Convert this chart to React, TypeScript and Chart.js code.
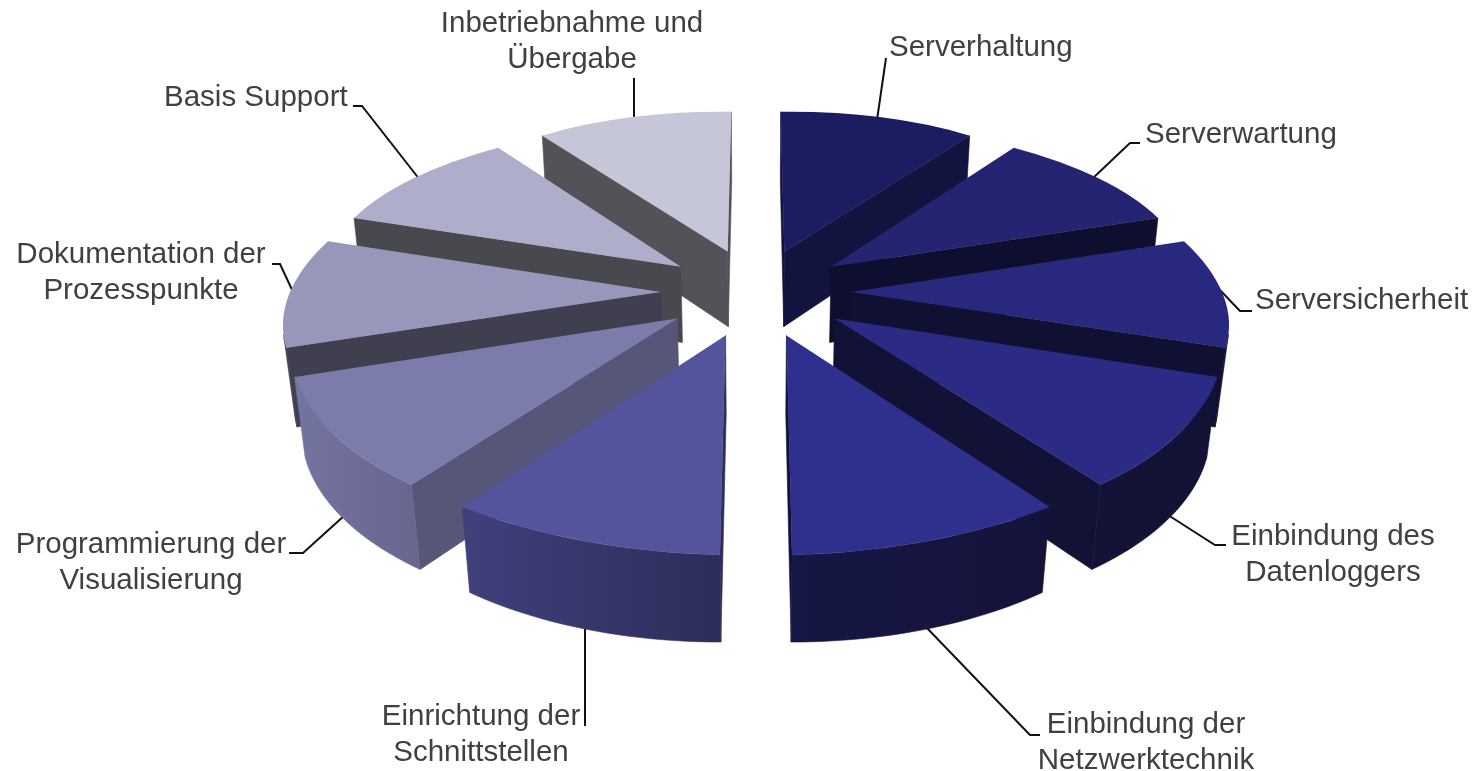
import React, { useEffect, useRef } from "react";
import { Chart, registerables } from "chart.js";

Chart.register(...registerables);

const categories = [
  "Serverhaltung",
  "Serverwartung",
  "Serversicherheit",
  "Einbindung des\nDatenloggers",
  "Einbindung der\nNetzwerktechnik",
  "Einrichtung der\nSchnittstellen",
  "Programmierung der\nVisualisierung",
  "Dokumentation der\nProzesspunkte",
  "Basis Support",
  "Inbetriebnahme und\nÜbergabe",
];
const shares = [10, 10, 10, 10, 10, 10, 10, 10, 10, 10];

const topColors = ["#1c1c60", "#242472", "#28287e", "#2b2b85", "#2f2f8e", "#54549d", "#7c7cac", "#9797bb", "#aeaecb", "#c6c6d9"];
const sideColors = ["#13133f", "#0e0e2e", "#101032", "#121236", "#121238", "#2e2e5d", "#565678", "#403f4f", "#48484f", "#525258"];
const rimLeftColors = ["#13133f", "#0e0e2e", "#101032", "#131338", "#171745", "#40407c", "#7474a0", "#403f4f", "#48484f", "#525258"];
const rimRightColors = ["#13133f", "#0e0e2e", "#101032", "#121236", "#13133a", "#2d2d5b", "#66668f", "#403f4f", "#48484f", "#525258"];

// Perspective camera of the exploded 3D pie
const VIEW = { cx: 756, cy: 292, ax: 371, bz: 172, k: 0.15, m: 0.022, drop: 78.6, explode: 0.256 };

// Label layout: [x, align, baseline of first line]
const LABEL_LAYOUT: [number, CanvasTextAlign, number][] = [
  [889, "left", 56],
  [1145, "left", 143],
  [1255, "left", 309],
  [1333, "center", 545],
  [1146, "center", 733],
  [481, "center", 725],
  [151, "center", 553],
  [141, "center", 263],
  [164, "left", 106],
  [572, "center", 32],
];
const LEADERS: number[][][] = [
  [[886, 58], [877, 120]],
  [[1140, 143], [1130, 143], [1092, 179]],
  [[1252, 311], [1240, 311], [1218, 288]],
  [[1226, 545], [1215, 545], [1168, 515]],
  [[1040, 735], [1030, 735], [925, 626]],
  [[585, 726], [585, 626]],
  [[289, 553], [303, 553], [345, 515]],
  [[272, 264], [280, 264], [294, 294]],
  [[353, 106], [362, 106], [420, 180]],
  [[634, 78], [634, 120]],
];

function project(X: number, Z: number, h: number): [number, number] {
  const w = 1 + VIEW.k * Z + VIEW.m * h;
  return [VIEW.cx + (VIEW.ax * X) / w, VIEW.cy - (VIEW.bz * Z - VIEW.drop * h) / w];
}

type Pt = [number, number];

function fillPoly(ctx: CanvasRenderingContext2D, pts: Pt[], fill: string | CanvasGradient) {
  ctx.beginPath();
  pts.forEach((p, i) => (i ? ctx.lineTo(p[0], p[1]) : ctx.moveTo(p[0], p[1])));
  ctx.closePath();
  ctx.fillStyle = fill;
  ctx.strokeStyle = fill;
  ctx.lineWidth = 0.6;
  ctx.fill();
  ctx.stroke();
}

function area(pts: Pt[]) {
  let s = 0;
  pts.forEach((p, i) => {
    const q = pts[(i + 1) % pts.length];
    s += p[0] * q[1] - q[0] * p[1];
  });
  return s;
}

const pie3d = {
  id: "pie3d",
  beforeDatasetDraw(chart: any) {
    const ctx: CanvasRenderingContext2D = chart.ctx;
    const arcs = chart.getDatasetMeta(0).data as any[];

    ctx.save();
    ctx.strokeStyle = "#111111";
    ctx.lineWidth = 2;
    LEADERS.forEach((line) => {
      ctx.beginPath();
      line.forEach((p, i) => (i ? ctx.lineTo(p[0], p[1]) : ctx.moveTo(p[0], p[1])));
      ctx.stroke();
    });
    ctx.restore();

    const order = arcs
      .map((a, i) => i)
      .sort((i, j) => {
        const mid = (a: any) => (a.startAngle + a.endAngle) / 2 + Math.PI / 2;
        return Math.cos(mid(arcs[j])) - Math.cos(mid(arcs[i]));
      });

    order.forEach((i) => {
      const arc = arcs[i];
      const t1 = arc.startAngle + Math.PI / 2;
      const t2 = arc.endAngle + Math.PI / 2;
      const mid = (t1 + t2) / 2;
      const ox = VIEW.explode * Math.sin(mid);
      const oz = VIEW.explode * Math.cos(mid);
      const tip = project(ox, oz, 0);
      const tipB = project(ox, oz, 1);
      const S = project(ox + Math.sin(t1), oz + Math.cos(t1), 0);
      const E = project(ox + Math.sin(t2), oz + Math.cos(t2), 0);
      // Affine map of the unit wedge onto its projected triangle
      const u1 = [Math.cos(arc.startAngle), Math.sin(arc.startAngle)];
      const u2 = [Math.cos(arc.endAngle), Math.sin(arc.endAngle)];
      const det = u1[0] * u2[1] - u2[0] * u1[1];
      const sx = S[0] - tip[0], sy = S[1] - tip[1], ex = E[0] - tip[0], ey = E[1] - tip[1];
      const a = (sx * u2[1] - ex * u1[1]) / det;
      const c = (ex * u1[0] - sx * u2[0]) / det;
      const b = (sy * u2[1] - ey * u1[1]) / det;
      const d = (ey * u1[0] - sy * u2[0]) / det;
      const mapTop = (ang: number): Pt => {
        const ca = Math.cos(ang), sa = Math.sin(ang);
        return [tip[0] + a * ca + c * sa, tip[1] + b * ca + d * sa];
      };

      const SB = project(ox + Math.sin(t1), oz + Math.cos(t1), 1);
      const EB = project(ox + Math.sin(t2), oz + Math.cos(t2), 1);
      const startFace: Pt[] = [S, tip, tipB, SB];
      const endFace: Pt[] = [tip, E, EB, tipB];
      if (area(startFace) > 0) fillPoly(ctx, startFace, sideColors[i]);
      if (area(endFace) > 0) fillPoly(ctx, endFace, sideColors[i]);

      // Visible part of the outer wall
      const N = 24;
      const tops: Pt[] = [];
      const bots: Pt[] = [];
      for (let n = 0; n <= N; n++) {
        const f = n / N;
        tops.push(mapTop(arc.startAngle + (arc.endAngle - arc.startAngle) * f));
        const th = t1 + (t2 - t1) * f;
        bots.push(project(ox + Math.sin(th), oz + Math.cos(th), 1));
      }
      const upper: Pt[] = [];
      const lower: Pt[] = [];
      for (let n = 0; n < N; n++) {
        if (area([tops[n], tops[n + 1], bots[n + 1], bots[n]]) < 0) {
          if (!upper.length) {
            upper.push(tops[n]);
            lower.push(bots[n]);
          }
          upper.push(tops[n + 1]);
          lower.push(bots[n + 1]);
        }
      }
      if (upper.length) {
        const xs = upper.concat(lower).map((p) => p[0]);
        const g = ctx.createLinearGradient(Math.min(...xs), 0, Math.max(...xs), 0);
        g.addColorStop(0, rimLeftColors[i]);
        g.addColorStop(1, rimRightColors[i]);
        fillPoly(ctx, upper.concat(lower.reverse()), g);
      }

      // Top face: the library's own arc, under the slice's projection
      ctx.save();
      const R = arc.outerRadius;
      ctx.transform(a / R, b / R, c / R, d / R, tip[0], tip[1]);
      ctx.translate(-arc.x, -arc.y);
      arc.draw(ctx);
      ctx.restore();
    });
    return false;
  },
  afterDraw(chart: any) {
    const ctx: CanvasRenderingContext2D = chart.ctx;
    ctx.save();
    ctx.fillStyle = "#404040";
    ctx.font = '29.5px "Liberation Sans"';
    ctx.textBaseline = "alphabetic";
    (chart.data.labels as string[]).forEach((label, i) => {
      const [x, align, y] = LABEL_LAYOUT[i];
      ctx.textAlign = align;
      label.split("\n").forEach((line, n) => ctx.fillText(line, x, y + n * 35.5));
    });
    ctx.restore();
  },
};

export default function App() {
  const ref = useRef<HTMLCanvasElement>(null);
  useEffect(() => {
    document.body.style.margin = "0";
    document.body.style.background = "#ffffff";
    const chart = new Chart(ref.current!, {
      type: "pie",
      data: {
        labels: categories,
        datasets: [{ data: shares, backgroundColor: topColors, borderWidth: 0 }],
      },
      options: {
        responsive: false,
        animation: false,
        devicePixelRatio: 1,
        layout: { padding: 100 },
        plugins: { legend: { display: false }, tooltip: { enabled: false } },
      },
      plugins: [pie3d],
    } as any);
    return () => chart.destroy();
  }, []);
  return (
    <div style={{ position: "fixed", left: 0, top: 0, width: 1477, height: 771, overflow: "hidden", background: "#fff" }}>
      <canvas ref={ref} width={1477} height={771} style={{ display: "block" }} />
    </div>
  );
}
